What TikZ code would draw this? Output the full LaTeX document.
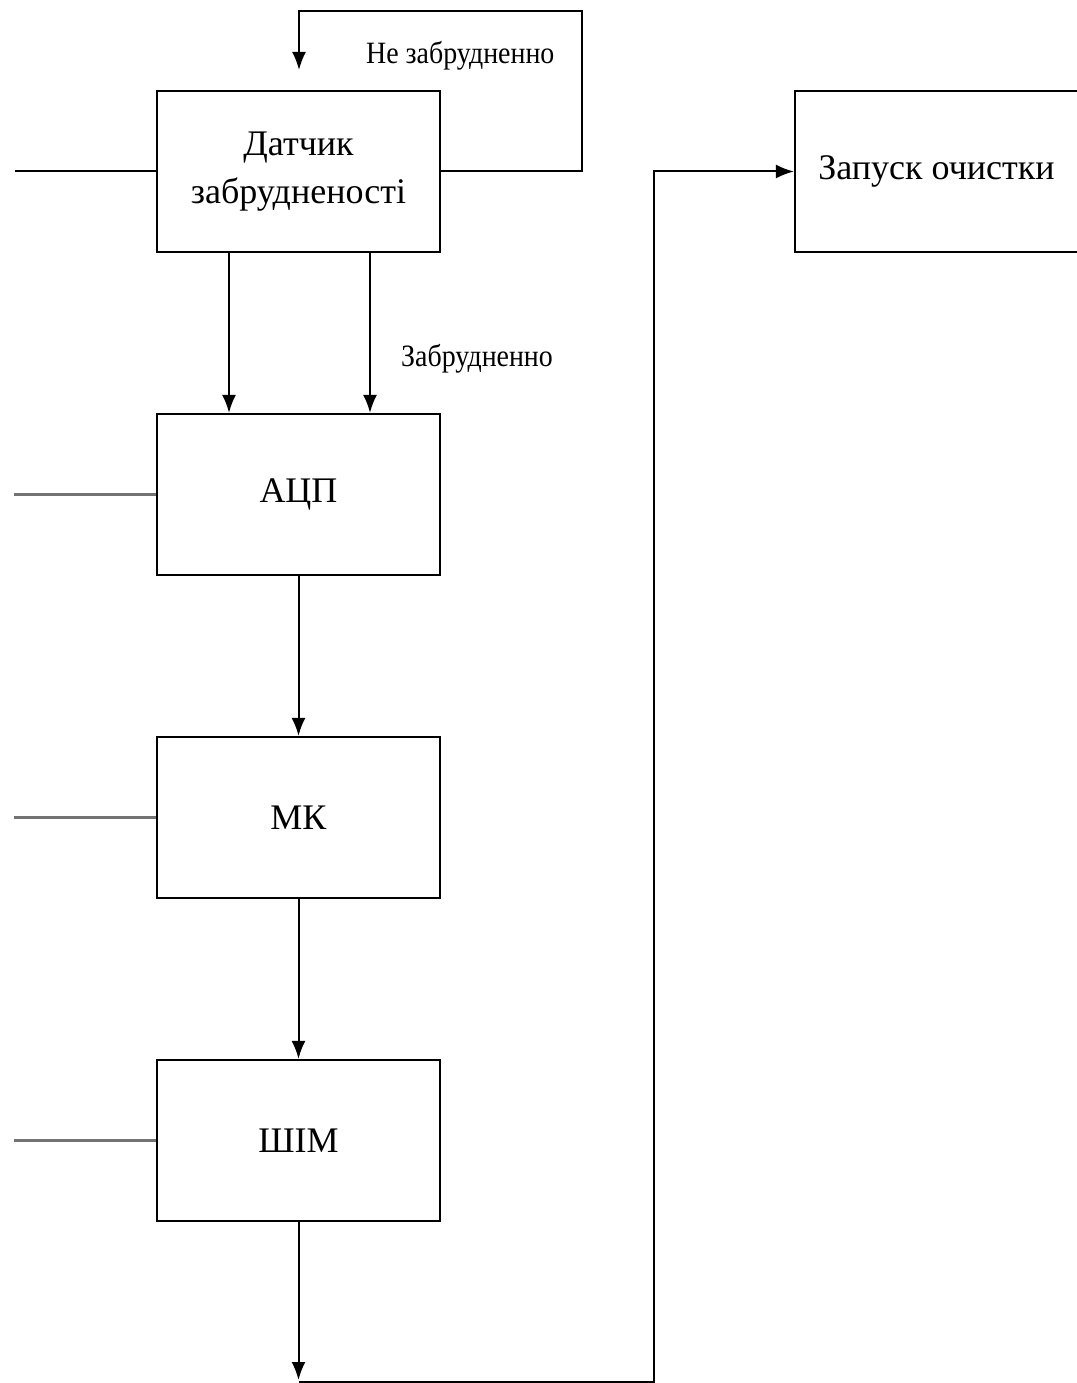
\documentclass[tikz,border=0pt]{standalone}
\usepackage{fontspec}
\setmainfont{Liberation Serif}
\newfontfamily\lblfont[FakeStretch=0.9]{Liberation Serif}
\usetikzlibrary{arrows.meta}
\begin{document}
\begin{tikzpicture}[x=1pt,y=-1pt,
        block/.style={draw,line width=2.2pt,minimum width=283pt,minimum height=161pt,inner sep=0pt,align=center,font=\fontsize{36}{48}\selectfont},
        lbl/.style={anchor=base west,inner sep=0pt,font=\lblfont\fontsize{31}{34}\selectfont},
        wire/.style={line width=2pt},
        inp/.style={line width=3.2pt,draw=black!55},
        >={Latex[length=18pt,width=14pt]}]
        \useasboundingbox (0,0) rectangle (1076,1383);

        \node[block] (sensor) at (298.5,171.5) {Датчик\\забрудненості};
        \node[block] (adc)    at (298.5,494.5) {АЦП};
        \node[block] (mcu)    at (298.5,817.5) {МК};
        \node[block] (pwm)    at (298.5,1140.5) {ШІМ};
        \node[block] (clean)  at (936.5,171.5) {Запуск очистки};

        \node[lbl] (lclean) at (366,64)  {Не забрудненно};
        \node[lbl] (ldirty) at (401,366) {Забрудненно};

        \coordinate (sensorin) at (15,171.5);
        \coordinate (fbtop)    at (582,11);
        \coordinate (fbtip)    at (299,70);
        \coordinate (pwmout)   at (298.5,1380);
        \coordinate (ret)      at (654,1381.5);

        \draw [wire] (sensorin) -- (sensor.west);
        \foreach \n in {adc,mcu,pwm} {
            \path (\n.west) ++(-142,0) coordinate (\n-in);
            \draw [inp] (\n-in) -- (\n.west);
        }

        \draw [wire,->] (sensor.east) -| (fbtop) -| (fbtip);
        \path [wire,->] ([xshift=-69.5pt]sensor.south) edge ([xshift=-69.5pt]adc.north);
        \path [wire,->] ([xshift=71.5pt]sensor.south) edge ([xshift=71.5pt]adc.north);
        \path [wire,->] (adc) edge (mcu);
        \path [wire,->] (mcu) edge (pwm);
        \draw [wire,->] (pwm.south) -- (pwmout);
        \draw [wire,->] (pwmout |- ret) -- (ret) |- (clean.west);
    \end{tikzpicture}
\end{document}
